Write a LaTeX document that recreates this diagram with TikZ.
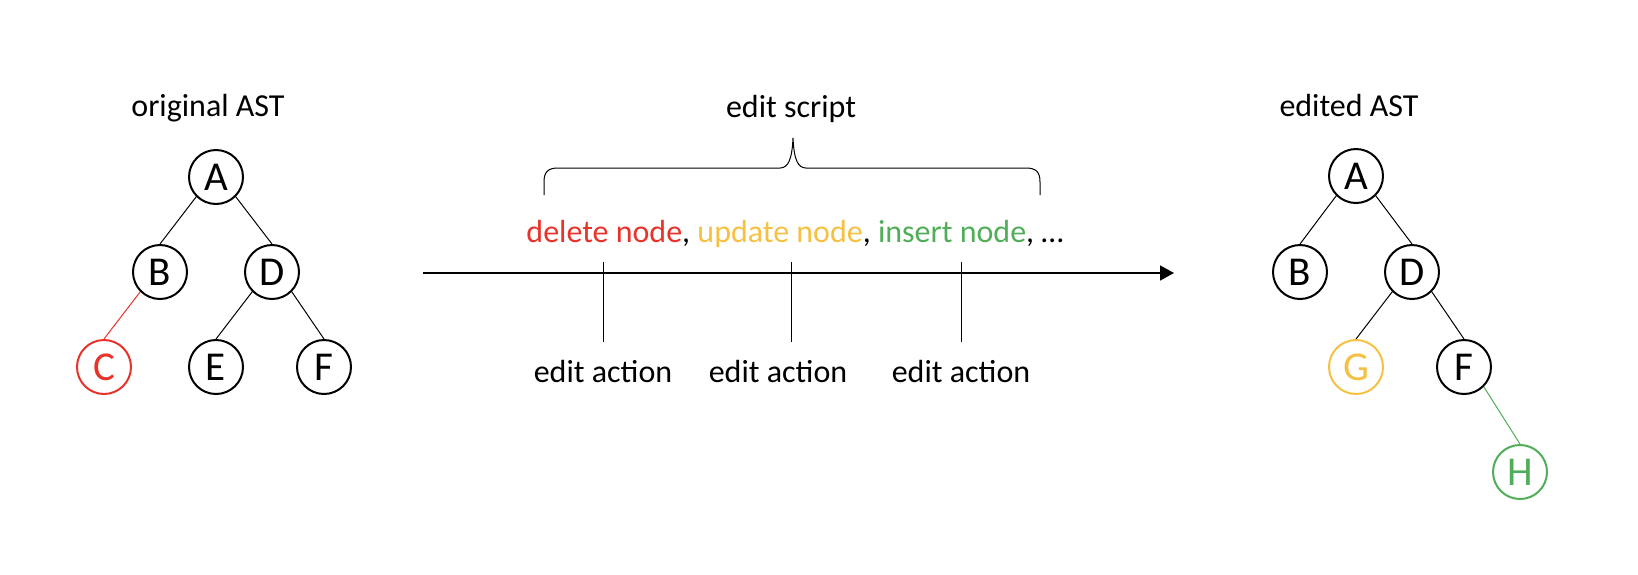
\documentclass[tikz,border=0pt]{standalone}
\usepackage{fontspec}
\setmainfont{Carlito}
\usetikzlibrary{arrows.meta}
\definecolor{cred}{HTML}{E8332A}
\definecolor{cyel}{HTML}{F6C143}
\definecolor{cgrn}{HTML}{50AD58}
\tikzset{
  treenode/.style={circle,draw=black,line width=1pt,minimum size=27pt,inner sep=0pt,
    font=\fontsize{20.5}{24}\selectfont},
  rednode/.style={treenode,draw=cred,text=cred},
  yelnode/.style={treenode,draw=cyel,text=cyel},
  grnnode/.style={treenode,draw=cgrn,text=cgrn},
  edge/.style={line width=0.5pt,draw=black},
  label/.style={font=\fontsize{16}{19}\selectfont,inner sep=0pt,anchor=base},
  tick/.style={line width=0.5pt}
}
\begin{document}
\begin{tikzpicture}[x=0.5pt,y=-0.5pt]
\useasboundingbox (0,0) rectangle (1638,574);
% left tree
\node[label] (lt) at (208,116) {original AST};
\node[treenode] (A) at (216,177) {A};
\node[treenode] (B) at (160,272) {B};
\node[treenode] (D) at (272,272) {D};
\node[rednode] (C) at (104,367) {C};
\node[treenode] (E) at (216,367) {E};
\node[treenode] (F) at (324,367) {F};
\draw[edge] (A.-135) -- (B.north);
\draw[edge] (A.-45) -- (D.north);
\draw[edge,draw=cred] (B.-135) -- (C.north);
\draw[edge] (D.-135) -- (E.north);
\draw[edge] (D.-45) -- (F.north);
% right tree
\node[label] (rt) at (1349,116) {edited AST};
\node[treenode] (A2) at (1356,176) {A};
\node[treenode] (B2) at (1300,272) {B};
\node[treenode] (D2) at (1412,272) {D};
\node[yelnode] (G) at (1356,367) {G};
\node[treenode] (F2) at (1464,367) {F};
\node[grnnode] (H) at (1520,472) {H};
\draw[edge] (A2.-135) -- (B2.north);
\draw[edge] (A2.-45) -- (D2.north);
\draw[edge] (D2.-135) -- (G.north);
\draw[edge] (D2.-45) -- (F2.north);
\draw[edge,draw=cgrn] (F2.-45) -- (H.north);
% middle
\node[label] (es) at (791,117) {edit script};
\draw[line width=0.5pt] (544,195) -- (544,182) .. controls (544,172) and (548,168) .. (558,168)
  -- (780,168) .. controls (788,168) and (792,160) .. (793,138)
  .. controls (794,160) and (798,168) .. (806,168) -- (1026,168)
  .. controls (1036,168) and (1040,172) .. (1040,182) -- (1040,195);
\node[label] (ops) at (795,242) {\textcolor{cred}{delete node}, \textcolor{cyel}{update node}, \textcolor{cgrn}{insert node}, …};
\coordinate (s) at (423,273);
\coordinate (e) at (1174,273);
\draw[line width=0.7pt,-{Triangle[length=7pt,width=7.5pt]}] (s) -- (e);
\coordinate (t1a) at (603,262); \coordinate (t1b) at (603,342);
\coordinate (t2a) at (791,262); \coordinate (t2b) at (791,342);
\coordinate (t3a) at (961,262); \coordinate (t3b) at (961,342);
\draw[tick] (t1a) -- (t1b);
\draw[tick] (t2a) -- (t2b);
\draw[tick] (t3a) -- (t3b);
\node[label] (ea1) at (603,382) {edit action};
\node[label] (ea2) at (778,382) {edit action};
\node[label] (ea3) at (961,382) {edit action};
\end{tikzpicture}
\end{document}
